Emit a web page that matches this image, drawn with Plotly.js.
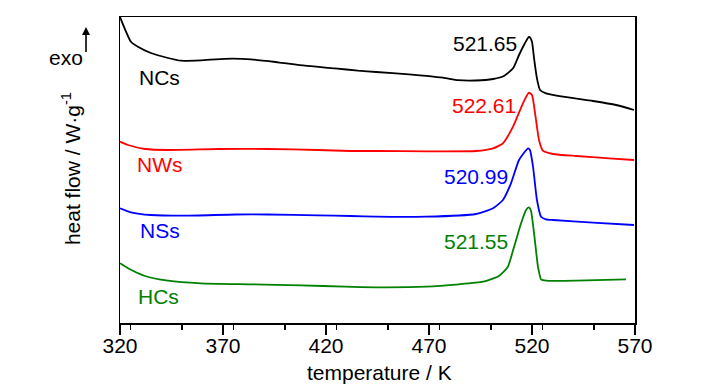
<!DOCTYPE html>
<html>
<head>
<meta charset="utf-8">
<script src="https://cdn.plot.ly/plotly-3.0.1.min.js"></script>
<style>html,body{margin:0;padding:0;background:#fff;}#chart{width:721px;height:387px;}</style>
</head>
<body>
<div id="chart"></div>
<script>
// temperature / K
const tNCs = [320, 325.3, 328.7, 335.0, 343.3, 349.6, 359.3, 371.0, 383.6, 396.7, 409.8, 424.4, 435.5, 444.3, 460.3, 476.8, 484.1, 492.8, 501.1, 506.4, 510.8, 513.7, 516.1, 518.1, 518.6, 519.0, 520.0, 521.0, 522.4, 523.9, 526.8, 535.0, 549.6, 560.8, 569.5];
const hNCs = [3.06, 2.813, 2.763, 2.70, 2.65, 2.623, 2.627, 2.642, 2.637, 2.607, 2.573, 2.547, 2.523, 2.51, 2.487, 2.453, 2.428, 2.425, 2.44, 2.47, 2.547, 2.68, 2.78, 2.853, 2.862, 2.857, 2.813, 2.647, 2.447, 2.33, 2.297, 2.263, 2.22, 2.18, 2.13];

const tNWs = [320, 323.9, 332.1, 343.3, 367.6, 391.8, 416.1, 432.1, 445.2, 468.5, 492.8, 501.1, 505.9, 510.8, 515.6, 518.5, 520.0, 521.5, 523.4, 525.3, 530.2, 541.4, 557.4, 569.5];
const hNWs = [1.813, 1.78, 1.74, 1.73, 1.74, 1.74, 1.73, 1.72, 1.72, 1.717, 1.72, 1.747, 1.797, 1.963, 2.197, 2.303, 2.28, 2.097, 1.83, 1.723, 1.69, 1.67, 1.647, 1.63];

const tNSs = [320, 325.3, 335.0, 351.6, 375.8, 391.8, 416.1, 432.1, 444.3, 468.5, 492.8, 501.1, 505.9, 509.8, 513.7, 518.1, 519.0, 520.5, 522.4, 524.4, 526.8, 530.2, 549.6, 569.5];
const hNSs = [1.147, 1.107, 1.08, 1.073, 1.085, 1.085, 1.077, 1.07, 1.063, 1.063, 1.09, 1.147, 1.23, 1.397, 1.63, 1.747, 1.73, 1.563, 1.23, 1.063, 1.037, 1.03, 1.003, 0.98];

const tHCs = [320, 323.9, 332.1, 343.3, 359.3, 383.6, 407.9, 429.2, 444.3, 468.5, 484.6, 496.2, 504.0, 508.3, 511.3, 514.7, 517.1, 518.5, 519.5, 521.0, 522.9, 524.4, 526.8, 541.4, 565.6];
const hHCs = [0.597, 0.547, 0.47, 0.423, 0.397, 0.387, 0.377, 0.363, 0.357, 0.363, 0.387, 0.413, 0.47, 0.563, 0.763, 0.997, 1.13, 1.157, 1.123, 0.897, 0.563, 0.437, 0.423, 0.423, 0.437];

const seriesNames = ["NCs", "NWs", "NSs", "HCs"];
const peakLabels = ["521.65", "522.61", "520.99", "521.55"];
const xTicks = [320, 370, 420, 470, 520, 570];

const colors = ["#000000", "#ff0000", "#0000ff", "#008000"];
const FONT = "'Liberation Sans Narrow', 'Arial Narrow', 'Liberation Sans', Arial, sans-serif";
const FS = 21;

const xs = [tNCs, tNWs, tNSs, tHCs];
const ys = [hNCs, hNWs, hNSs, hHCs];
const traces = xs.map((x, i) => ({
  x: x, y: ys[i], type: 'scatter', mode: 'lines', name: seriesNames[i],
  line: {color: colors[i], width: 1.8, shape: 'spline', smoothing: 0.5},
  hoverinfo: 'skip'
}));

const namePos = [[339.4, 2.46], [339.4, 1.59], [339.4, 0.93], [338.9, 0.27]];
const peakPos = [[497.2, 2.80], [496.7, 2.18], [492.8, 1.47], [492.8, 0.82]];
const annotations = [];
seriesNames.forEach((n, i) => {
  annotations.push({x: namePos[i][0], y: namePos[i][1], xref: 'x', yref: 'y', text: n, showarrow: false,
    font: {family: FONT, size: FS, color: colors[i]}, xanchor: 'center', yanchor: 'middle'});
  annotations.push({x: peakPos[i][0], y: peakPos[i][1], xref: 'x', yref: 'y', text: peakLabels[i], showarrow: false,
    font: {family: FONT, size: FS, color: colors[i]}, xanchor: 'center', yanchor: 'middle'});
});
annotations.push({x: -0.1049, y: 0.869, xref: 'paper', yref: 'paper', text: 'exo', showarrow: false,
  font: {family: FONT, size: FS, color: '#000'}, xanchor: 'center', yanchor: 'middle'});
annotations.push({x: -0.066, y: 0.967, xref: 'paper', yref: 'paper', text: ' ', showarrow: true,
  ax: 0, ay: 38, arrowhead: 2, arrowsize: 1, arrowwidth: 1.6, arrowcolor: '#000'});
annotations.push({x: -0.0951, y: 0.503, xref: 'paper', yref: 'paper', text: 'heat flow / W·g<sup>-1</sup>', showarrow: false,
  textangle: -90, font: {family: FONT, size: FS, color: '#000'}, xanchor: 'center', yanchor: 'middle'});
annotations.push({x: 0.503, y: -0.163, xref: 'paper', yref: 'paper', text: 'temperature / K', showarrow: false,
  font: {family: FONT, size: FS, color: '#000'}, xanchor: 'center', yanchor: 'middle'});

const layout = {
  width: 721, height: 387,
  margin: {l: 120, r: 86, t: 17, b: 64},
  paper_bgcolor: '#fff', plot_bgcolor: '#fff',
  showlegend: false,
  font: {family: FONT, size: FS, color: '#000'},
  xaxis: {
    range: [320, 570], tickvals: xTicks, ticktext: xTicks.map(String),
    ticks: 'outside', ticklen: 10, tickwidth: 1.5, tickcolor: '#000',
    ticklabelstandoff: -7,
    minor: {dtick: 25, ticks: 'outside', ticklen: 5, tickwidth: 1.5, tickcolor: '#000'},
    showline: true, linecolor: '#000', linewidth: 1.5, mirror: true,
    showgrid: false, zeroline: false,
    tickfont: {family: FONT, size: FS, color: '#000'}
  },
  yaxis: {
    range: [0, 3.06], showticklabels: false, ticks: '',
    showline: true, linecolor: '#000', linewidth: 1.5, mirror: true,
    showgrid: false, zeroline: false
  },
  annotations: annotations
};

Plotly.newPlot('chart', traces, layout, {displayModeBar: false, staticPlot: true});
</script>
</body>
</html>
